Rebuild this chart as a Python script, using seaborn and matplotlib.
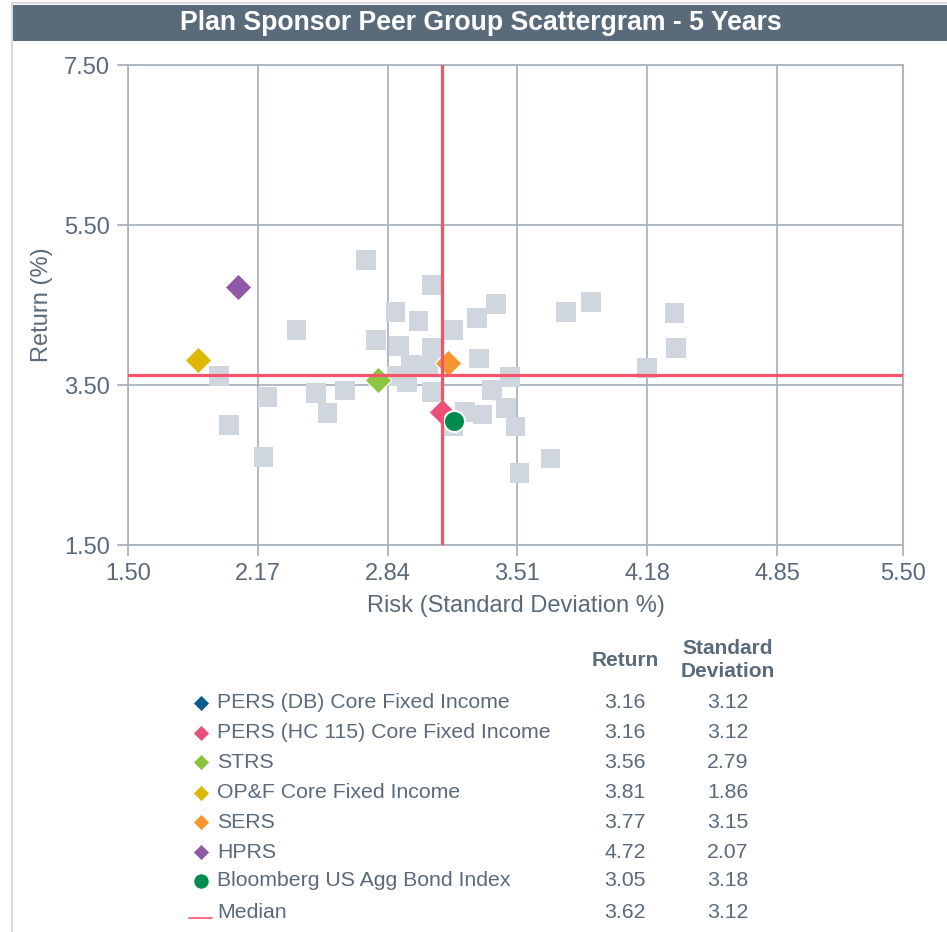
import matplotlib
matplotlib.use("Agg")
import matplotlib.pyplot as plt
import seaborn as sns
import pandas as pd
from matplotlib.patches import Rectangle

# ---------------- data ----------------
peer_sd = [2.73, 3.07, 2.88, 3.40, 3.76, 3.89, 4.32, 4.33, 4.18, 2.37,
           3.00, 3.30, 3.18, 2.78, 2.90, 3.07, 3.31, 1.97, 2.02, 2.20,
           2.22, 2.47, 2.53, 2.62, 3.47, 3.38, 3.45, 3.33, 3.24, 3.50,
           3.52, 3.68, 3.18, 2.96, 3.05, 2.89, 2.94, 3.07]
peer_ret = [5.06, 4.75, 4.41, 4.51, 4.41, 4.54, 4.40, 3.96, 3.71, 4.19,
            4.30, 4.34, 4.19, 4.06, 3.99, 3.96, 3.83, 3.61, 3.00, 2.60,
            3.35, 3.40, 3.15, 3.43, 3.60, 3.44, 3.21, 3.13, 3.16, 2.98,
            2.40, 2.58, 2.98, 3.75, 3.73, 3.61, 3.54, 3.41]

series_names = ["PERS (DB) Core Fixed Income", "PERS (HC 115) Core Fixed Income",
                "STRS", "OP&F Core Fixed Income", "SERS", "HPRS",
                "Bloomberg US Agg Bond Index"]
series_ret = [3.16, 3.16, 3.56, 3.81, 3.77, 4.72, 3.05]
series_sd = [3.12, 3.12, 2.79, 1.86, 3.15, 2.07, 3.18]
series_colors = ["#0B5E8C", "#EA4F7F", "#8CC43F", "#DDB700", "#F7962F", "#9158A6", "#008C4F"]
series_markers = ["D", "D", "D", "D", "D", "D", "o"]

median_ret = 3.62
median_sd = 3.12

x_ticks = [1.50, 2.17, 2.84, 3.51, 4.18, 4.85, 5.50]
y_ticks = [1.50, 3.50, 5.50, 7.50]

title = "Plan Sponsor Peer Group Scattergram - 5 Years"
x_label = "Risk (Standard Deviation %)"
y_label = "Return (%)"

# ---------------- style ----------------
sns.set_theme(style="white")
plt.rcParams["font.family"] = ["Liberation Sans", "DejaVu Sans"]

TXT = "#5A6A7A"
GRID = "#AAB4BF"
PEER = "#CFD6DE"
RED = "#F4546A"
BAR = "#596A7A"

W, H = 947, 932
fig = plt.figure(figsize=(W / 100, H / 100), dpi=100)

# overlay axes in pixel coordinates (for frame, title bar, table)
oax = fig.add_axes([0, 0, 1, 1], zorder=0)
oax.set_xlim(0, W)
oax.set_ylim(H, 0)
oax.axis("off")
oax.plot([11.5, 11.5], [3, H], color="#DADADA", lw=1.5)
oax.plot([11.5, W], [3, 3], color="#DADADA", lw=1.5)
oax.add_patch(Rectangle((13, 4.5), W - 13, 36.5, facecolor=BAR, edgecolor="none"))
oax.text(481, 23, title, color="white", fontsize=19.2, fontweight="bold",
         ha="center", va="center")

# main scatter axes
ax = fig.add_axes([128 / W, 1 - 545 / H, (903 - 128) / W, 480 / H], zorder=1)
ax.patch.set_alpha(0)

peers = pd.DataFrame({"sd": peer_sd, "ret": peer_ret})
sns.scatterplot(data=peers, x="sd", y="ret", marker="s", s=200, color=PEER,
                edgecolor="none", linewidth=0, ax=ax, zorder=2, legend=False)

for name, r, sd, c, m in zip(series_names, series_ret, series_sd, series_colors, series_markers):
    d = pd.DataFrame({"sd": [sd], "ret": [r]})
    if m == "o":
        sns.scatterplot(data=d, x="sd", y="ret", marker="o", s=230, color=c,
                        edgecolor="white", linewidth=1.5, ax=ax, zorder=3, legend=False)
    else:
        sns.scatterplot(data=d, x="sd", y="ret", marker="D", s=185, color=c,
                        edgecolor="white", linewidth=0.8, ax=ax, zorder=3, legend=False)

ax.axvline(median_sd, color=RED, lw=2.3, zorder=4)
ax.axhline(median_ret, color=RED, lw=2.3, zorder=4)

ax.set_xlim(1.5, 5.5)
ax.set_ylim(1.5, 7.5)
ax.set_xticks(x_ticks)
ax.set_xticklabels([f"{v:.2f}" for v in x_ticks])
ax.set_yticks(y_ticks)
ax.set_yticklabels([f"{v:.2f}" for v in y_ticks])
ax.grid(True, color=GRID, lw=1.3, zorder=0)
ax.set_axisbelow(True)
for sp in ax.spines.values():
    sp.set_color(GRID)
    sp.set_linewidth(1.3)
ax.tick_params(axis="both", length=8, width=1.3, color=GRID, labelcolor=TXT,
               labelsize=17, pad=5, bottom=True, left=True)
ax.set_xlabel(x_label, fontsize=17, color=TXT, labelpad=7)
ax.set_ylabel(y_label, fontsize=17, color=TXT, labelpad=8)

# ---------------- table legend ----------------
row_y = [703, 733, 762, 793, 822, 852, 881, 912]
mx, tx, cx_ret, cx_sd = 201, 217, 625, 728
fs = 15.3
oax.text(cx_ret, 661, "Return", fontsize=15, fontweight="bold", color=TXT, ha="center", va="center")
oax.text(cx_sd, 660, "Standard\nDeviation", fontsize=15, fontweight="bold", color=TXT,
         ha="center", va="center", linespacing=1.3)
for i, (name, r, sd, c, m) in enumerate(zip(series_names, series_ret, series_sd, series_colors, series_markers)):
    y = row_y[i]
    if m == "o":
        oax.scatter([mx], [y], marker="o", s=125, color=c, edgecolor="white", linewidth=0.8)
    else:
        oax.scatter([mx], [y], marker="D", s=68, color=c, edgecolor="white", linewidth=0.5)
    oax.text(tx, y, name, fontsize=fs, color=TXT, ha="left", va="center")
    oax.text(cx_ret, y, f"{r:.2f}", fontsize=fs, color=TXT, ha="center", va="center")
    oax.text(cx_sd, y, f"{sd:.2f}", fontsize=fs, color=TXT, ha="center", va="center")

y = row_y[-1]
oax.plot([189, 212], [918, 918], color=RED, lw=1.2)
oax.text(tx, y, "Median", fontsize=fs, color=TXT, ha="left", va="center")
oax.text(cx_ret, y, f"{median_ret:.2f}", fontsize=fs, color=TXT, ha="center", va="center")
oax.text(cx_sd, y, f"{median_sd:.2f}", fontsize=fs, color=TXT, ha="center", va="center")

fig.savefig("out.png", dpi=100)
